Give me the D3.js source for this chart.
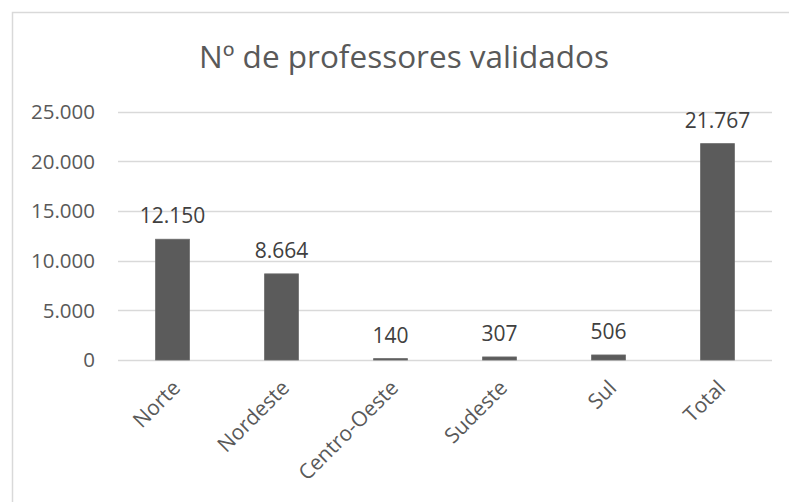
<!DOCTYPE html>
<html>
<head>
<meta charset="utf-8">
<script src="https://cdn.jsdelivr.net/npm/d3@7"></script>
<style>
  html, body { margin: 0; padding: 0; background: #fff; }
  svg { display: block; }
  text { font-family: "Open Sans", "Noto Sans", sans-serif; }
</style>
</head>
<body>
<svg id="chart" width="789" height="502"></svg>
<script>
const title = "Nº de professores validados";
const categories = ["Norte", "Nordeste", "Centro-Oeste", "Sudeste", "Sul", "Total"];
const values = [12150, 8664, 140, 307, 506, 21767];
const yTicks = [0, 5000, 10000, 15000, 20000, 25000];

const locale = d3.formatLocale({ decimal: ",", thousands: ".", grouping: [3], currency: ["", ""] });
const fmt = locale.format(",d");

const svg = d3.select("#chart");

// chart frame (extends past right and bottom edges)
svg.append("rect")
  .attr("x", 12.5).attr("y", 12.5)
  .attr("width", 800).attr("height", 520)
  .attr("fill", "#fff").attr("stroke", "#d9d9d9").attr("stroke-width", 1.5);

const x = d3.scaleBand().domain(categories).range([118, 772]).paddingInner(0.69).paddingOuter(0.345);
const y = d3.scaleLinear().domain([0, 25000]).range([360, 111.5]);

// gridlines
svg.append("g").selectAll("line").data(yTicks).join("line")
  .attr("x1", 118).attr("x2", 772)
  .attr("y1", d => Math.round(y(d)) + 0.5).attr("y2", d => Math.round(y(d)) + 0.5)
  .attr("stroke", "#d9d9d9").attr("stroke-width", 1.5);

// y tick labels
svg.append("g").selectAll("text").data(yTicks).join("text")
  .attr("x", 95).attr("y", d => y(d))
  .attr("dy", "0.36em")
  .attr("text-anchor", "end")
  .attr("font-size", 20.5)
  .attr("fill", "#595959")
  .text(d => fmt(d));

// bars
svg.append("g").selectAll("rect").data(values).join("rect")
  .attr("x", (d, i) => x(categories[i]))
  .attr("width", x.bandwidth())
  .attr("y", d => y(d))
  .attr("height", d => y(0) - y(d))
  .attr("fill", "#5b5b5b")
  .attr("stroke", "#6a6a6a").attr("stroke-width", 0.8);

// value labels
svg.append("g").selectAll("text").data(values).join("text")
  .attr("x", (d, i) => x(categories[i]) + x.bandwidth() / 2)
  .attr("y", d => y(d) - 16)
  .attr("text-anchor", "middle")
  .attr("font-size", 21)
  .attr("fill", "#404040")
  .text(d => fmt(d));

// x category labels, rotated
svg.append("g").selectAll("text").data(categories).join("text")
  .attr("transform", d => `translate(${x(d) + x.bandwidth() / 2 - 2},${378}) rotate(-45)`)
  .attr("text-anchor", "end")
  .attr("dy", "0.75em")
  .attr("font-size", 21)
  .attr("fill", "#595959")
  .text(d => d);

// title
svg.append("text")
  .attr("x", 404).attr("y", 68)
  .attr("text-anchor", "middle")
  .attr("font-size", 31.5)
  .attr("fill", "#595959")
  .text(title);
</script>
</body>
</html>
